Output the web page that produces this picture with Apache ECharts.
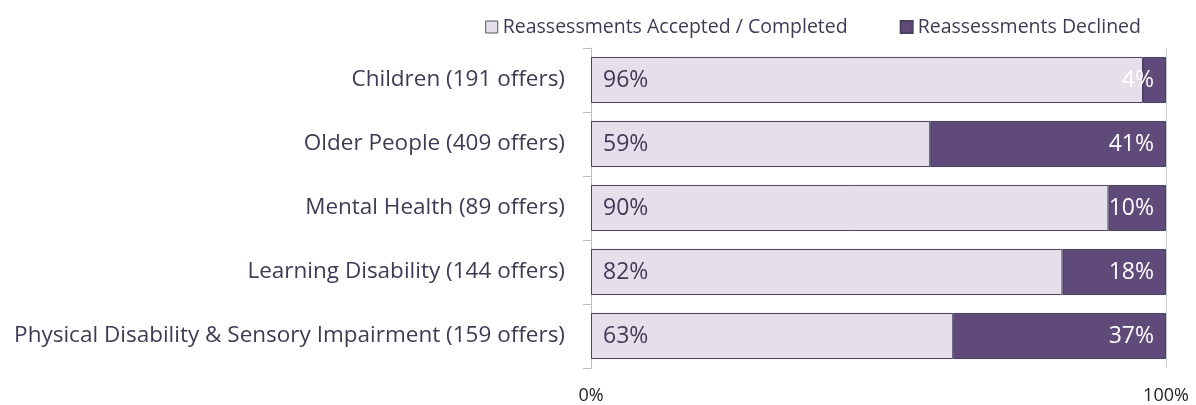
<!DOCTYPE html>
<html><head><meta charset="utf-8">
<script src="https://cdn.jsdelivr.net/npm/echarts@6/dist/echarts.min.js"></script>
<style>html,body{margin:0;padding:0;background:#fff}#c{width:1196px;height:405px}</style>
</head><body><div id="c"></div>
<script>
const categories = ["Children (191 offers)","Older People (409 offers)","Mental Health (89 offers)","Learning Disability (144 offers)","Physical Disability & Sensory Impairment (159 offers)"];
const accepted = [96,59,90,82,63];
const declined = [4,41,10,18,37];
const seriesNames = ["Reassessments Accepted / Completed","Reassessments Declined"];
const xTicks = ["0%","100%"];
const FONT = "Open Sans";
const TXT = "#403a55";
const chart = echarts.init(document.getElementById('c'));
chart.setOption({
  animation:false,
  textStyle:{fontFamily:FONT},
  legend:{top:12,right:50,icon:'rect',itemWidth:12,itemHeight:12,itemGap:52,
    textStyle:{fontFamily:FONT,fontSize:19.5,color:TXT},
    data:[{name:seriesNames[0],itemStyle:{borderColor:'#555',borderWidth:1}},{name:seriesNames[1]}]},
  grid:{left:591,right:30,top:48,bottom:37},
  xAxis:{type:'value',min:0,max:100,interval:100,
    axisLine:{show:false},axisTick:{show:false},
    splitLine:{show:true,lineStyle:{color:'#c8c8c8',width:1}},
    axisLabel:{fontFamily:FONT,fontSize:18,color:'#222',margin:19,formatter:(v)=>v===0?xTicks[0]:xTicks[1]}},
  yAxis:{type:'category',inverse:true,data:categories,
    axisLine:{show:true,lineStyle:{color:'#bdbdbd'}},
    axisTick:{show:true,length:8,lineStyle:{color:'#bdbdbd'}},
    axisLabel:{fontFamily:FONT,fontSize:22.5,color:TXT,margin:26}},
  series:[
    {name:seriesNames[0],type:'bar',stack:'s',barCategoryGap:'28%',data:accepted,
     itemStyle:{color:'#e5dfec',borderColor:'#4a4060',borderWidth:1},
     label:{show:true,position:'insideLeft',distance:12,formatter:'{c}%',fontFamily:FONT,fontSize:23,color:TXT}},
    {name:seriesNames[1],type:'bar',stack:'s',data:declined,
     itemStyle:{color:'#5f4a7a',borderColor:'#4a4060',borderWidth:1},
     label:{show:true,position:'insideRight',distance:12,formatter:'{c}%',fontFamily:FONT,fontSize:23,color:'#fff'}}
  ]
});
</script></body></html>
